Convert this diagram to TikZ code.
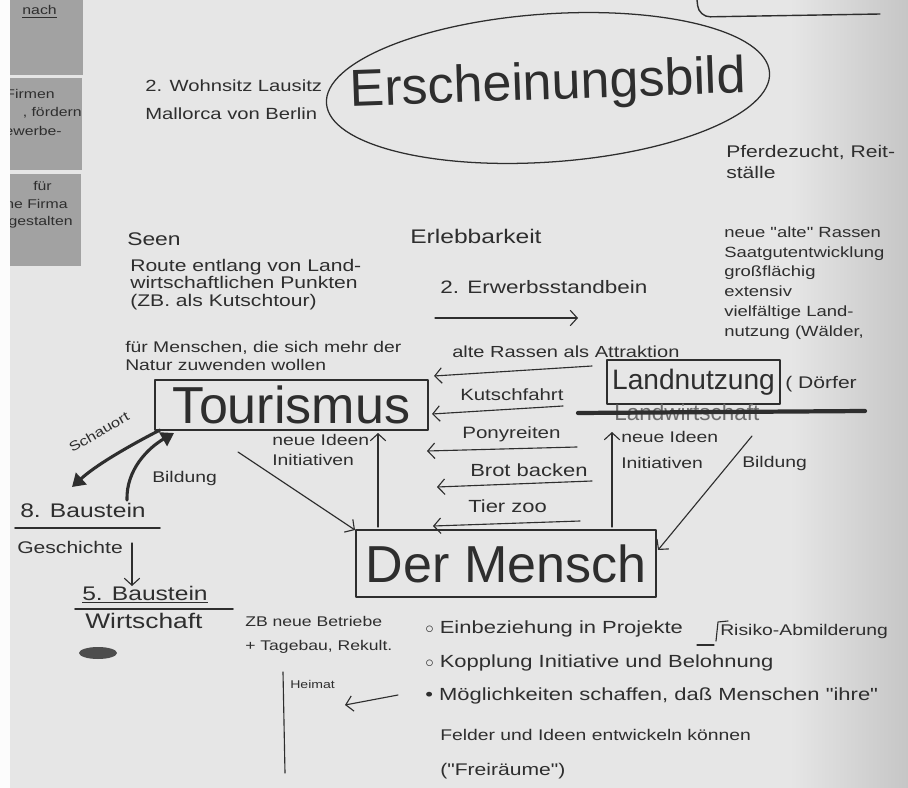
\documentclass[tikz,border=0pt]{standalone}
\usepackage{fontspec}
\setmainfont{Liberation Sans}
\newfontfamily\hand{Liberation Sans}[FakeStretch=1.25]
\usetikzlibrary{arrows.meta,shapes.geometric}
\definecolor{paper}{HTML}{E6E6E6}
\definecolor{pen}{HTML}{2E2E2E}
\definecolor{sticky}{HTML}{A2A2A2}
\newcommand{\hsz}[2]{\hand\fontsize{#1}{#2}\selectfont}
\newcommand{\bsz}[1]{\fontsize{#1}{#1}\selectfont}
\tikzset{
  note/.style={anchor=base west, align=left, inner sep=0pt, text=pen},
  kasten/.style={draw=pen, line width=1.6pt, inner sep=0pt, text=pen},
  pfeil/.style={draw=pen, line width=0.8pt, -{Straight Barb[length=5pt,width=11pt]}},
  dickpfeil/.style={draw=pen, line width=2.2pt, -{Triangle[length=9pt,width=11pt]}},
}

\begin{document}
\begin{tikzpicture}[x=0.025cm, y=-0.025cm, line cap=round, line join=round]
\useasboundingbox (0,0) rectangle (908,788);
% paper
\fill[paper] (0,0) rectangle (908,788);
\shade[left color=paper, right color=paper!86!black] (790,0) rectangle (908,788);
\fill[white!90!paper] (0,0) rectangle (10,788);

% sticky notes, cut at the left edge
\fill[sticky] (10,0) rectangle (83,75);
\fill[sticky] (10,78) rectangle (82,170);
\fill[sticky] (10,174) rectangle (81,266);
\begin{scope}
  \clip (10,0) rectangle (83,266);
  \node[note, anchor=base east, font=\hsz{9}{11}] (z1) at (57,15) {\underline{nach}};
  \node[note, anchor=base east, font=\hsz{9}{11}] (z2) at (55,99) {Firmen};
  \node[note, anchor=base east, font=\hsz{9}{11}] (z3) at (82,117) {, fördern};
  \node[note, anchor=base east, font=\hsz{9}{11}] (z4) at (62,136) {Gewerbe-};
  \node[note, anchor=base east, font=\hsz{9}{11}] (z5) at (52,191) {für};
  \node[note, anchor=base east, font=\hsz{9}{11}] (z6) at (68,208) {eine Firma};
  \node[note, anchor=base east, font=\hsz{9}{11}] (z7) at (73,226) {gestalten};
\end{scope}

% box at the top right, cut off
\draw[pen, line width=1pt, rounded corners=8pt] (697,0) -- (699,17) -- (880,14);

% Erscheinungsbild
\node[draw=pen, line width=0.9pt, ellipse, minimum width=11.1cm, minimum height=3.7cm,
      rotate=4] (bildrand) at (548,88) {};
\node[text=pen, font=\bsz{37}, rotate=2] (bild) at (548,86) {Erscheinungsbild};

% multi-line notes: coordinate = baseline of the last line
\node[note, font=\hsz{11.5}{20}] (wohnsitz) at (145,120) {2. Wohnsitz Lausitz\\Mallorca von Berlin};
\node[note, font=\hsz{12}{15.6}] (pferd) at (726,179) {Pferdezucht, Reit-\\ställe};
\node[note, font=\hsz{10.5}{14}] (rassen) at (724,336)
  {neue "alte" Rassen\\Saatgutentwicklung\\großflächig\\extensiv\\vielfältige Land-\\nutzung (Wälder,};

\node[note, font=\hsz{13}{15}] (seen) at (127,245) {Seen};
\node[note, font=\hsz{12}{12.2}] (route) at (130,306)
  {Route entlang von Land-\\wirtschaftlichen Punkten\\(ZB. als Kutschtour)};
\node[note, font=\hsz{11}{12.8}] (natur) at (125,370)
  {für Menschen, die sich mehr der\\Natur zuwenden wollen};

\node[note, font=\hsz{14}{16}] (erleb) at (410,243) {Erlebbarkeit};
\node[note, font=\hsz{12.8}{15}] (erwerb) at (440,293) {2. Erwerbsstandbein};
\coordinate (e1) at (435,318);
\coordinate (e2) at (578,318);
\draw[pfeil] (e1) -- (e2);

% die drei Kaesten
\node[kasten, minimum width=6.83cm, minimum height=1.25cm, font=\bsz{37}] (tour) at (291.5,405) {Tourismus};
\node[kasten, minimum width=7.5cm, minimum height=1.68cm, font=\bsz{37}] (mensch) at (506,563.5) {Der Mensch};
\node[kasten, minimum width=4.33cm, minimum height=1.1cm, font=\bsz{20}] (land) at (693.5,382) {Landnutzung};
\node[note, font=\hsz{12}{14}] (doerfer) at (785,388) {( Dörfer};
\node[note, text=pen!70, font=\bsz{16}] (landw) at (614,420) {Landwirtschaft};
\coordinate (s1) at (578,413);
\coordinate (s2) at (865,411);
\draw[pen, line width=3pt] (s1) -- (s2);

% Angebote von der Landnutzung zum Tourismus
\node[note, font=\hsz{11.4}{13}] (attrak) at (452,357) {alte Rassen als Attraktion};
\node[note, font=\hsz{11.6}{13}] (kutsch) at (460,400) {Kutschfahrt};
\node[note, font=\hsz{11.7}{13}] (pony) at (462,438) {Ponyreiten};
\node[note, font=\hsz{12.5}{13}] (brot) at (470,476) {Brot backen};
\node[note, font=\hsz{12.5}{13}] (tier) at (468,512) {Tier zoo};
\coordinate (r1a) at (592,366); \coordinate (r1b) at (434,376);
\coordinate (r2a) at (563,406); \coordinate (r2b) at (432,414);
\coordinate (r3a) at (577,447); \coordinate (r3b) at (427,451);
\coordinate (r4a) at (592,481); \coordinate (r4b) at (437,487);
\coordinate (r5a) at (580,521); \coordinate (r5b) at (433,526);
\foreach \i in {1,...,5}
  \draw[pfeil] (r\i a) -- (r\i b);

% zwischen Mensch, Tourismus und Landnutzung
\coordinate (mt1) at (378,527); \coordinate (mt2) at (378,433);
\coordinate (tm1) at (238,452); \coordinate (tm2) at (355,530);
\coordinate (ml1) at (612,527); \coordinate (ml2) at (612,432);
\coordinate (lm1) at (752,436); \coordinate (lm2) at (658,550);
\draw[pfeil] (mt1) -- (mt2);
\draw[pfeil] (tm1) -- (tm2);
\draw[pfeil] (ml1) -- (ml2);
\draw[pfeil] (lm1) -- (lm2);
\node[note, font=\hsz{11}{14}] (ideen1) at (272,465) {neue Ideen\\Initiativen};
\node[note, font=\hsz{11}{18}] (ideen2) at (621,468) {neue Ideen\\Initiativen};
\node[note, font=\hsz{11}{13}] (bildung2) at (742,467) {Bildung};

% Bausteine links
\coordinate (tb1) at (160,430); \coordinate (tb2) at (72,487);
\coordinate (bt1) at (127,500); \coordinate (bt2) at (174,433);
\draw[dickpfeil] (tb1) .. controls (125,448) and (95,466) .. (tb2);
\draw[dickpfeil] (bt1) .. controls (126,470) and (148,448) .. (bt2);
\node[text=pen, inner sep=0pt, rotate=30, font=\hsz{9.5}{12}] (schau) at (99,432) {Schauort};
\node[note, font=\hsz{11}{13}] (bildung1) at (152,482) {Bildung};

\node[note, font=\hsz{14}{16}] (bau8) at (20,517) {8. Baustein};
\coordinate (u8a) at (15,528); \coordinate (u8b) at (160,528);
\draw[pen, line width=1.4pt] (u8a) -- (u8b);
\node[note, font=\hsz{12}{14}] (gesch) at (17,553) {Geschichte};
\coordinate (g1) at (132,543); \coordinate (g2) at (132,586);
\draw[pfeil] (g1) -- (g2);
\node[note, font=\hsz{14}{16}] (bau5) at (82,600) {\underline{5. Baustein}};
\coordinate (u5a) at (75,609); \coordinate (u5b) at (233,609);
\draw[pen, line width=1.4pt] (u5a) -- (u5b);
\node[note, font=\hsz{15}{17}] (wirt) at (85,628) {Wirtschaft};
\fill[pen!85] (98,653) ellipse [x radius=19, y radius=6];

\node[note, font=\hsz{10}{17}] (zb) at (245,650) {ZB neue Betriebe\\+ Tagebau, Rekult.};
\node[note, font=\hsz{8}{10}] (heimat) at (290,688) {Heimat};
\coordinate (h1) at (283,672); \coordinate (h2) at (285,773);
\draw[pen, line width=0.8pt] (h1) -- (h2);
\coordinate (hp1) at (398,695); \coordinate (hp2) at (345,705);
\draw[pfeil] (hp1) -- (hp2);

% Aufzaehlung unten
\node[note, font=\hsz{12.5}{14}] (p1) at (425,633) {$\circ$ Einbeziehung in Projekte};
\node[note, font=\hsz{11}{13}] (risiko) at (720,635) {Risiko-Abmilderung};
\draw[pen, line width=0.8pt] (697,645) -- (714,645);
\draw[pen, line width=0.8pt] (716,641) -- (718,622) -- (728,621);
\node[note, font=\hsz{12.5}{14}] (p2) at (425,667) {$\circ$ Kopplung Initiative und Belohnung};
\node[note, font=\hsz{12.5}{14}] (p3) at (425,700) {\textbullet\ Möglichkeiten schaffen, daß Menschen "ihre"};
\node[note, font=\hsz{11}{13}] (p4) at (440,740) {Felder und Ideen entwickeln können};
\node[note, font=\hsz{12}{14}] (p5) at (440,775) {("Freiräume")};
\end{tikzpicture}
\end{document}
